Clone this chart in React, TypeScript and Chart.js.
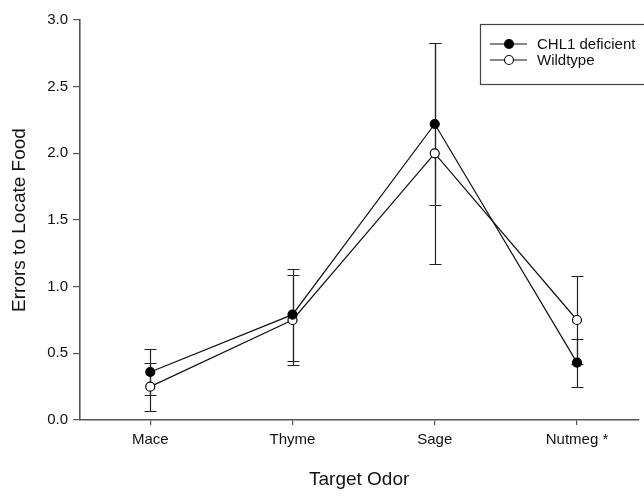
import React, { useEffect, useRef } from "react";
import { Chart, registerables } from "chart.js";

Chart.register(...registerables);

const categories = ["Mace", "Thyme", "Sage", "Nutmeg *"];
const seriesNames = ["CHL1 deficient", "Wildtype"];
const chl1Values = [0.36, 0.79, 2.22, 0.43];
const chl1Errors = [0.175, 0.345, 0.61, 0.18];
const wildValues = [0.25, 0.75, 2.0, 0.75];
const wildErrors = [0.18, 0.34, 0.83, 0.33];
const yTicks = [0, 0.5, 1.0, 1.5, 2.0, 2.5, 3.0];
const xTitle = "Target Odor";
const yTitle = "Errors to Locate Food";

const FONT = "'Liberation Sans', Arial, Helvetica, sans-serif";
const INK = "#111111";
const AXIS = "#555555";

const errorSets = [chl1Errors, wildErrors];
const markerFills = ["#000000", "#ffffff"];

const errorBarPlugin = {
  id: "errorBars",
  beforeDatasetsDraw(chart: any) {
    const { ctx, scales } = chart;
    const x = scales.x;
    const y = scales.y;
    ctx.save();
    ctx.strokeStyle = "#222222";
    ctx.lineWidth = 1.2;
    chart.data.datasets.forEach((ds: any, di: number) => {
      const errs = errorSets[di];
      ds.data.forEach((p: any, i: number) => {
        const px = Math.round(x.getPixelForValue(p.x)) + 0.5;
        const yTop = Math.round(y.getPixelForValue(p.y + errs[i])) + 0.5;
        const yBot = Math.round(y.getPixelForValue(p.y - errs[i])) + 0.5;
        ctx.beginPath();
        ctx.moveTo(px, yTop);
        ctx.lineTo(px, yBot);
        ctx.moveTo(px - 6, yTop);
        ctx.lineTo(px + 6, yTop);
        ctx.moveTo(px - 6, yBot);
        ctx.lineTo(px + 6, yBot);
        ctx.stroke();
      });
    });
    ctx.restore();
  },
};

const legendPlugin = {
  id: "boxLegend",
  afterDraw(chart: any) {
    const { ctx } = chart;
    const left = 480.5;
    const top = 24.5;
    const rowY = [44, 60];
    ctx.save();
    ctx.strokeStyle = "#444444";
    ctx.lineWidth = 1.2;
    ctx.strokeRect(left, top, 220, 60);
    chart.data.datasets.forEach((ds: any, di: number) => {
      const yy = rowY[di];
      ctx.strokeStyle = "#111111";
      ctx.lineWidth = 1.2;
      ctx.beginPath();
      ctx.moveTo(490, yy);
      ctx.lineTo(527, yy);
      ctx.stroke();
      ctx.beginPath();
      ctx.arc(509, yy, 4.5, 0, Math.PI * 2);
      ctx.fillStyle = markerFills[di];
      ctx.fill();
      ctx.stroke();
      ctx.fillStyle = INK;
      ctx.font = `15px ${FONT}`;
      ctx.textAlign = "left";
      ctx.textBaseline = "middle";
      ctx.fillText(seriesNames[di], 537, yy + 1);
    });
    ctx.restore();
  },
};

export default function App() {
  const ref = useRef<HTMLCanvasElement>(null);

  useEffect(() => {
    document.body.style.margin = "0";
    document.body.style.overflow = "hidden";
    const canvas = ref.current;
    if (!canvas) return;

    const mk = (vals: number[]) => vals.map((v, i) => ({ x: i, y: v }));

    const chart = new Chart(canvas, {
      type: "line",
      data: {
        datasets: [
          {
            label: seriesNames[0],
            data: mk(chl1Values),
            borderColor: "#111111",
            borderWidth: 1.2,
            pointRadius: 4.5,
            pointBorderWidth: 1.2,
            pointBackgroundColor: markerFills[0],
            pointBorderColor: "#000000",
            tension: 0,
          },
          {
            label: seriesNames[1],
            data: mk(wildValues),
            borderColor: "#111111",
            borderWidth: 1.2,
            pointRadius: 4.5,
            pointBorderWidth: 1.2,
            pointBackgroundColor: markerFills[1],
            pointBorderColor: "#000000",
            tension: 0,
          },
        ],
      },
      options: {
        animation: false,
        responsive: false,
        events: [],
        layout: { padding: { top: 20, left: 0, right: 0, bottom: 0 } },
        plugins: {
          legend: { display: false },
          tooltip: { enabled: false },
        },
        scales: {
          x: {
            type: "linear",
            min: -0.494,
            max: 3.431,
            afterBuildTicks: (s: any) => {
              s.ticks = categories.map((_, i) => ({ value: i }));
            },
            afterFit: (s: any) => {
              s.height = 78;
            },
            ticks: {
              autoSkip: false,
              maxRotation: 0,
              padding: 6,
              color: INK,
              font: { family: FONT, size: 15 },
              callback: (v: any) => categories[v as number] ?? "",
            },
            grid: { drawOnChartArea: false, tickLength: 5, color: AXIS, lineWidth: 1.2 },
            border: { color: AXIS, width: 1.6 },
            title: {
              display: true,
              text: xTitle,
              color: INK,
              font: { family: FONT, size: 19 },
              padding: { top: 0, bottom: 7 },
            },
          },
          y: {
            type: "linear",
            min: 0,
            max: 3,
            afterBuildTicks: (s: any) => {
              s.ticks = yTicks.map((v) => ({ value: v }));
            },
            afterFit: (s: any) => {
              s.width = 80;
            },
            ticks: {
              padding: 5,
              color: INK,
              font: { family: FONT, size: 15 },
              callback: (v: any) => Number(v).toFixed(1),
            },
            grid: { drawOnChartArea: false, tickLength: 7, color: AXIS, lineWidth: 1.2 },
            border: { color: AXIS, width: 1.6 },
            title: {
              display: true,
              text: yTitle,
              color: INK,
              font: { family: FONT, size: 19 },
              padding: { top: 8, bottom: 0 },
            },
          },
        },
      },
      plugins: [errorBarPlugin, legendPlugin],
    } as any);

    return () => chart.destroy();
  }, []);

  return (
    <div style={{ width: 644, height: 498 }}>
      <canvas ref={ref} width={644} height={498} />
    </div>
  );
}
